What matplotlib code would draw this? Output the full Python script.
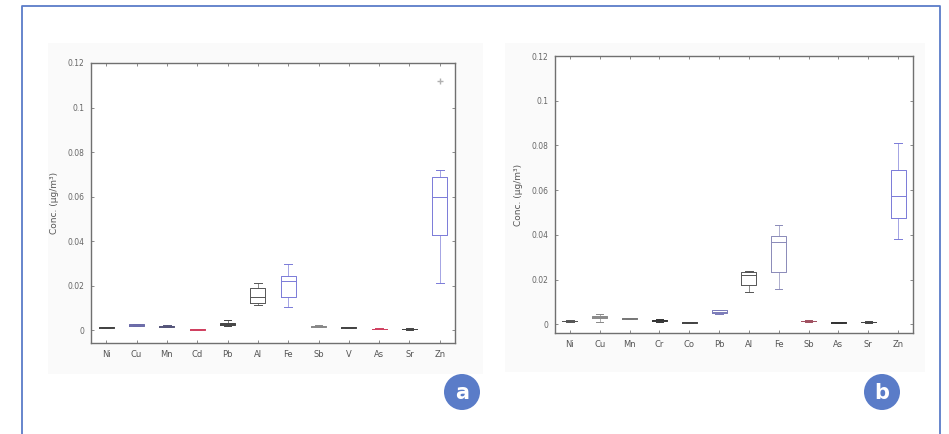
import matplotlib
matplotlib.use("Agg")
import matplotlib.pyplot as plt
from matplotlib.patches import Rectangle, Circle

# ─── Data (µg/m³) ─────────────────────────────────────────────────────────────

elements_a = ["Ni", "Cu", "Mn", "Cd", "Pb", "Al", "Fe", "Sb", "V", "As", "Sr", "Zn"]
whislo_a = [0.0009, 0.0018, 0.0014, 0.0001, 0.0018, 0.0113, 0.0105, 0.0014, 0.0008, 0.0003, 0.0002, 0.0210]
q1_a     = [0.0011, 0.0020, 0.0016, 0.0002, 0.0024, 0.0120, 0.0150, 0.0016, 0.0010, 0.0005, 0.0005, 0.0428]
med_a    = [0.0012, 0.0023, 0.0018, 0.0003, 0.0027, 0.0150, 0.0222, 0.0018, 0.0012, 0.0006, 0.0006, 0.0600]
q3_a     = [0.0013, 0.0026, 0.0020, 0.0004, 0.0030, 0.0188, 0.0245, 0.0020, 0.0014, 0.0007, 0.0007, 0.0686]
whishi_a = [0.0015, 0.0029, 0.0022, 0.0005, 0.0045, 0.0213, 0.0297, 0.0022, 0.0016, 0.0009, 0.0010, 0.0720]
fliers_a = [[], [], [], [], [], [], [], [], [], [], [], [0.1118]]
colors_a = ["#444444", "#6a6aa8", "#55557a", "#d04060", "#444444", "#555555",
            "#7a7ad8", "#888888", "#444444", "#d04060", "#444444", "#7a7ad8"]

elements_b = ["Ni", "Cu", "Mn", "Cr", "Co", "Pb", "Al", "Fe", "Sb", "As", "Sr", "Zn"]
whislo_b = [0.0011, 0.0010, 0.0022, 0.0012, 0.0004, 0.0045, 0.0143, 0.0156, 0.0011, 0.0004, 0.0007, 0.0381]
q1_b     = [0.0013, 0.0028, 0.0024, 0.0016, 0.0006, 0.0050, 0.0176, 0.0233, 0.0013, 0.0006, 0.0009, 0.0476]
med_b    = [0.0014, 0.0033, 0.0026, 0.0018, 0.0008, 0.0056, 0.0220, 0.0370, 0.0014, 0.0008, 0.0010, 0.0576]
q3_b     = [0.0015, 0.0036, 0.0028, 0.0020, 0.0010, 0.0062, 0.0233, 0.0396, 0.0015, 0.0010, 0.0011, 0.0689]
whishi_b = [0.0017, 0.0045, 0.0030, 0.0024, 0.0012, 0.0066, 0.0239, 0.0444, 0.0017, 0.0012, 0.0013, 0.0810]
fliers_b = [[] for _ in elements_b]
colors_b = ["#555555", "#888888", "#777777", "#333333", "#444444", "#7a7ab8",
            "#555555", "#8a8ab8", "#a05060", "#333333", "#444444", "#7a7ad8"]

yticks = [0, 0.02, 0.04, 0.06, 0.08, 0.1, 0.12]
ytick_labels = ["0", "0.02", "0.04", "0.06", "0.08", "0.1", "0.12"]

BLUE = "#5a7cc8"


# ─── Helpers ──────────────────────────────────────────────────────────────────

def draw_panel(ax, names, lo, q1, med, q3, hi, fliers, colors, ybottom):
    for i, name in enumerate(names):
        stats = [dict(label=name, whislo=lo[i], q1=q1[i], med=med[i],
                      q3=q3[i], whishi=hi[i], fliers=fliers[i])]
        c = colors[i]
        ax.bxp(stats, positions=[i + 1], widths=0.5, showfliers=True,
               boxprops=dict(color=c, lw=0.7),
               whiskerprops=dict(color=c, lw=0.6, alpha=0.8),
               capprops=dict(color=c, lw=0.7),
               medianprops=dict(color=c, lw=0.7),
               flierprops=dict(marker="+", markeredgecolor="#b0b0b0", markersize=4))
    ax.set_xlim(0.5, len(names) + 0.5)
    ax.set_ylim(ybottom, 0.12)
    ax.set_xticks(range(1, len(names) + 1))
    ax.set_xticklabels(names, fontsize=6, color="#555555")
    ax.set_yticks(yticks)
    ax.set_yticklabels(ytick_labels, fontsize=5.5, color="#666666")
    ax.tick_params(direction="in", length=2.5, width=0.6, color="#777777",
                   top=True, right=True, pad=5)
    ax.set_ylabel("Conc. (µg/m³)", fontsize=6.5, color="#555555", labelpad=6)
    for s in ax.spines.values():
        s.set_color("#707070")
        s.set_linewidth(1.0)
    ax.set_facecolor("white")


# ─── Figure ───────────────────────────────────────────────────────────────────

W, H = 949, 434
fig = plt.figure(figsize=(W / 100, H / 100), dpi=100)

# background layer in pixel coordinates (y downwards)
bg = fig.add_axes([0, 0, 1, 1], zorder=-1)
bg.set_xlim(0, W)
bg.set_ylim(H, 0)
bg.axis("off")
bg.add_patch(Rectangle((48, 43), 483 - 48, 374 - 43, color="#fafafa", lw=0))
bg.add_patch(Rectangle((505, 43), 925 - 505, 372 - 43, color="#fafafa", lw=0))
bg.plot([22, 22, 940, 940], [H, 6, 6, H], color=BLUE, lw=1.3)
for cx, letter in [(462, "a"), (882, "b")]:
    bg.add_patch(Circle((cx, 392), 18, color=BLUE, lw=0))
    bg.text(cx, 393, letter, ha="center", va="center", color="white",
            fontsize=15, fontweight="bold")


def px_axes(left, top, right, bottom):
    return fig.add_axes([left / W, 1 - bottom / H, (right - left) / W, (bottom - top) / H])


ax_a = px_axes(91, 63, 455, 343)
draw_panel(ax_a, elements_a, whislo_a, q1_a, med_a, q3_a, whishi_a,
           fliers_a, colors_a, -0.0058)

ax_b = px_axes(555, 56, 913, 333)
draw_panel(ax_b, elements_b, whislo_b, q1_b, med_b, q3_b, whishi_b,
           fliers_b, colors_b, -0.0039)

fig.savefig("out.png", dpi=100)
